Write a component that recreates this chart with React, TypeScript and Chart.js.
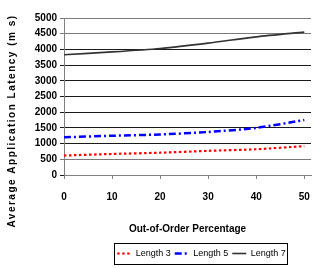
import React, { useEffect, useRef } from "react";
import { Chart, registerables } from "chart.js";

Chart.register(...registerables);

const xValues = [0, 10, 20, 30, 40, 50];
const length3 = [620, 670, 710, 770, 820, 920];
const length5 = [1200, 1250, 1290, 1370, 1500, 1750];
const length7 = [3830, 3920, 4030, 4200, 4400, 4550];
const seriesNames = ["Length 3", "Length 5", "Length 7"];
const yTicks = [0, 500, 1000, 1500, 2000, 2500, 3000, 3500, 4000, 4500, 5000];
const yTitle = "Average Application Latency (m s)";
const xTitle = "Out-of-Order Percentage";

const FONT = "'Liberation Sans', Arial, sans-serif";
const LEGEND_CENTER_X = 201.5;

const yTitlePlugin = {
  id: "yTitlePlugin",
  afterLayout(chart: any) {
    const lg = chart.legend;
    if (lg) {
      const c = (lg.left + lg.right) / 2;
      const d = LEGEND_CENTER_X - c;
      lg.left += d;
      lg.right += d;
    }
  },
  afterDraw(chart: any) {
    const ctx = chart.ctx as CanvasRenderingContext2D;
    ctx.save();
    ctx.font = `bold 10px ${FONT}`;
    (ctx as any).letterSpacing = "1.5px";
    ctx.fillStyle = "#000";
    ctx.textAlign = "center";
    ctx.textBaseline = "middle";
    ctx.translate(12, 121);
    ctx.rotate(-Math.PI / 2);
    ctx.fillText(yTitle, 0, 0);
    ctx.restore();

    // legend border
    const lg = chart.legend;
    if (lg && lg.legendHitBoxes && lg.legendHitBoxes.length) {
      const boxes = lg.legendHitBoxes;
      let l = Infinity, r = -Infinity, t = Infinity, b = -Infinity;
      boxes.forEach((bx: any) => {
        l = Math.min(l, bx.left);
        r = Math.max(r, bx.left + bx.width);
        t = Math.min(t, bx.top);
        b = Math.max(b, bx.top + bx.height);
      });
      const cy = (t + b) / 2;
      ctx.save();
      ctx.strokeStyle = "#000";
      ctx.lineWidth = 1;
      ctx.strokeRect(Math.round(l - 3) + 0.5, Math.round(cy - 11) + 0.5, Math.round(r - l + 4), 21);
      ctx.restore();
    }
  },
};

export default function App() {
  const ref = useRef<HTMLCanvasElement>(null);
  useEffect(() => {
    if (!ref.current) return;
    const mk = (arr: number[]) => xValues.map((x, i) => ({ x, y: arr[i] }));
    const dashes = [[2.5, 2.5], [7, 3, 2, 3], []];
    const chart = new Chart(ref.current, {
      type: "line",
      data: {
        datasets: [
          {
            label: seriesNames[0],
            data: mk(length3),
            borderColor: "#ff0000",
            borderWidth: 2.2,
            borderDash: dashes[0],
            pointRadius: 0,
            tension: 0.25,
          },
          {
            label: seriesNames[1],
            data: mk(length5),
            borderColor: "#0000ff",
            borderWidth: 2.5,
            borderDash: dashes[1],
            pointRadius: 0,
            tension: 0.25,
          },
          {
            label: seriesNames[2],
            data: mk(length7),
            borderColor: "#333333",
            borderWidth: 1.6,
            pointRadius: 0,
            tension: 0.25,
          },
        ],
      },
      options: {
        animation: false,
        responsive: false,
        maintainAspectRatio: false,
        layout: { padding: { left: 0, right: 5, top: 18, bottom: 0 } },
        plugins: {
          legend: {
            position: "bottom",
            labels: {
              usePointStyle: true,
              pointStyle: "line",
              pointStyleWidth: 14,
              boxHeight: 8,
              padding: 4,
              color: "#000",
              font: { family: FONT, size: 9 },
              generateLabels: (ch: any) =>
                ch.data.datasets.map((ds: any, i: number) => ({
                  text: ds.label,
                  fillStyle: ds.borderColor,
                  strokeStyle: ds.borderColor,
                  lineWidth: ds.borderWidth,
                  lineDash: dashes[i],
                  pointStyle: "line",
                  hidden: false,
                  datasetIndex: i,
                  fontColor: "#000",
                })),
            },
          },
          tooltip: { enabled: false },
        },
        scales: {
          x: {
            type: "linear",
            min: 0,
            max: 51.4,
            afterBuildTicks: (s: any) => {
              s.ticks = xValues.map((v) => ({ value: v }));
            },
            ticks: {
              autoSkip: false,
              padding: 12,
              color: "#000",
              maxRotation: 0,
              font: { family: FONT, size: 10, weight: "bold" },
            },
            grid: {
              drawOnChartArea: false,
              tickLength: 4,
              color: "#808080",
            },
            border: { color: "#808080", width: 1 },
            title: {
              display: true,
              text: xTitle,
              color: "#000",
              font: { family: FONT, size: 10, weight: "bold" },
              padding: { top: 8, bottom: 10 },
            },
          },
          y: {
            min: 0,
            max: 5000,
            afterBuildTicks: (s: any) => {
              s.ticks = yTicks.map((v) => ({ value: v }));
            },
            afterFit: (s: any) => {
              s.width = 64;
            },
            ticks: {
              autoSkip: false,
              padding: 3,
              color: "#000",
              callback: (v: any) => String(v),
              font: { family: FONT, size: 10, weight: "bold" },
            },
            grid: {
              tickLength: 4,
              color: (c: any) => {
                const v = c.tick ? c.tick.value : 0;
                return v === 5000 || v === 4500 || v === 500 ? "#7a7a7a" : "#1a1a1a";
              },
            },
            border: { color: "#808080", width: 1 },
          },
        },
      },
      plugins: [yTitlePlugin],
    } as any);
    return () => chart.destroy();
  }, []);
  return (
    <div style={{ position: "fixed", left: 0, top: 0, width: 322, height: 268, background: "#fff" }}>
      <canvas ref={ref} width={322} height={268} style={{ display: "block" }} />
    </div>
  );
}
